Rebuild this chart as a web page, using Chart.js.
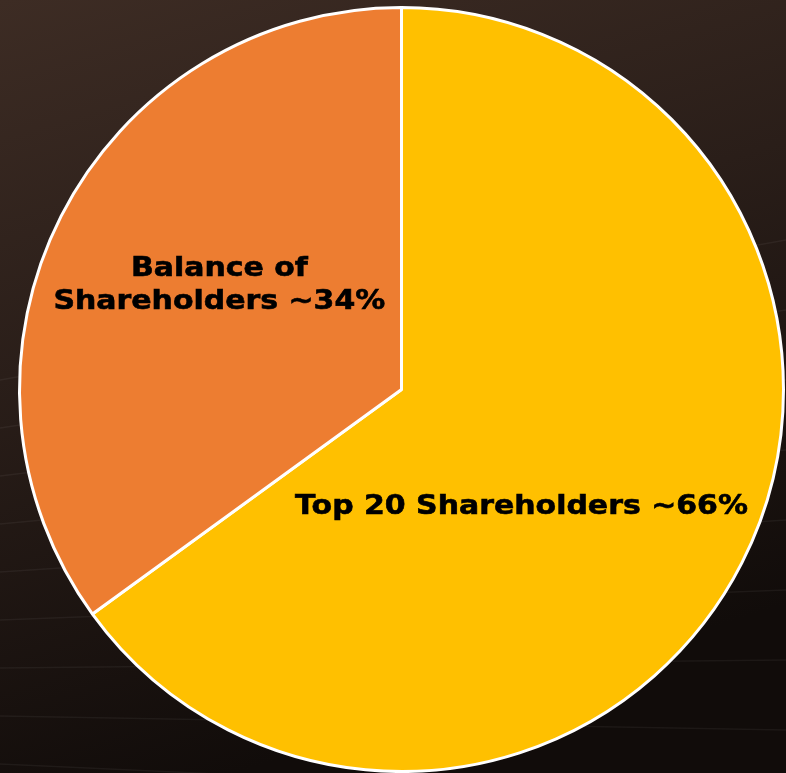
<!DOCTYPE html>
<html>
<head>
<meta charset="utf-8">
<script src="https://cdn.jsdelivr.net/npm/chart.js@4/dist/chart.umd.min.js"></script>
<style>
  html, body { margin: 0; padding: 0; background: #1c1411; }
  #wrap { width: 786px; height: 773px; }
</style>
</head>
<body>
<div id="wrap"><canvas id="grafico"></canvas></div>
<script>
// Datos del gráfico (porciones, etiquetas tal cual)
const categorias = ['Top 20 Shareholders', 'Balance of Shareholders'];
const valores = [65, 35];
const etiquetas = [['Top 20 Shareholders ~66%'], ['Balance of', 'Shareholders ~34%']];
const colores = ['#FFC000', '#ED7D31'];

// posición de cada etiqueta: fracción del radio y giro respecto al ángulo medio (grados)
const ajusteEtiquetas = [
  { frac: 0.439, giro: 17.3 },
  { frac: 0.549, giro: 2.7 },
];

const pluginFondo = {
  id: 'pluginFondo',
  beforeDraw(chart) {
    const { ctx, width, height } = chart;
    ctx.save();
    const g = ctx.createLinearGradient(0, 0, width * 0.3, height);
    g.addColorStop(0, '#3d2c24');
    g.addColorStop(0.45, '#2a1e19');
    g.addColorStop(1, '#110c0a');
    ctx.fillStyle = g;
    ctx.fillRect(0, 0, width, height);

    // líneas tenues tipo panel solar
    ctx.strokeStyle = 'rgba(255,255,255,0.05)';
    ctx.lineWidth = 1.5;
    ctx.beginPath();
    for (let i = 0; i < 9; i++) {
      const y = 380 + i * 48;
      ctx.moveTo(0, y);
      ctx.lineTo(width, y - 140 + i * 22);
    }
    ctx.stroke();
    ctx.restore();
  },
};

const pluginEtiquetas = {
  id: 'pluginEtiquetas',
  afterDatasetsDraw(chart) {
    const { ctx } = chart;
    const arcos = chart.getDatasetMeta(0).data;
    const ancho = 1.13; // letra ancha tipo Verdana
    ctx.save();
    ctx.font = 'bold 26.5px "DejaVu Sans", Verdana, sans-serif';
    ctx.fillStyle = '#000';
    ctx.strokeStyle = '#000';
    ctx.lineWidth = 0.6;
    ctx.textAlign = 'center';
    ctx.textBaseline = 'middle';
    arcos.forEach((arco, i) => {
      const { x, y, startAngle, endAngle, outerRadius } = arco.getProps(['x', 'y', 'startAngle', 'endAngle', 'outerRadius'], true);
      const aj = ajusteEtiquetas[i];
      const medio = (startAngle + endAngle) / 2 + (aj.giro * Math.PI) / 180;
      const cx = x + Math.cos(medio) * outerRadius * aj.frac;
      const cy = y + Math.sin(medio) * outerRadius * aj.frac;
      const lineas = etiquetas[i];
      const alto = 33;
      lineas.forEach((t, j) => {
        ctx.save();
        ctx.translate(cx, cy + (j - (lineas.length - 1) / 2) * alto);
        ctx.scale(ancho, 1);
        ctx.fillText(t, 0, 0);
        ctx.strokeText(t, 0, 0);
        ctx.restore();
      });
    });
    ctx.restore();
  },
};

new Chart(document.getElementById('grafico'), {
  type: 'pie',
  data: {
    labels: categorias,
    datasets: [{
      data: valores,
      backgroundColor: colores,
      borderColor: '#ffffff',
      borderWidth: 3,
    }],
  },
  options: {
    responsive: true,
    maintainAspectRatio: false,
    animation: false,
    layout: { padding: { top: 6, right: 0, bottom: 0, left: 17 } },
    plugins: {
      legend: { display: false },
      tooltip: { enabled: false },
    },
  },
  plugins: [pluginFondo, pluginEtiquetas],
});
</script>
</body>
</html>
